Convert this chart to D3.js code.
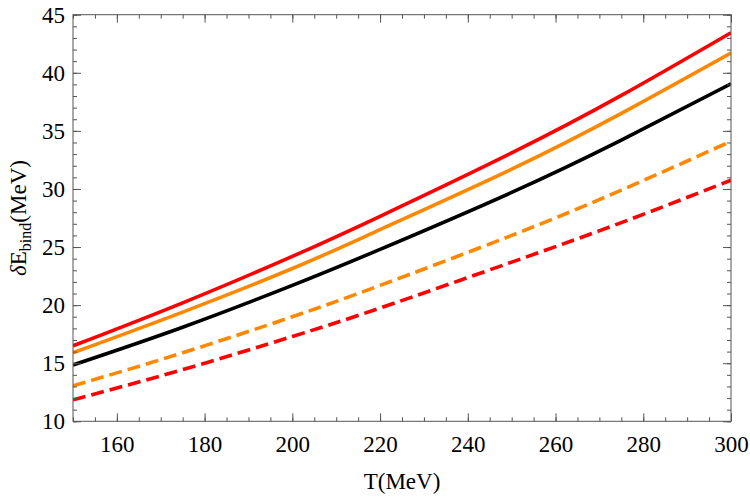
<!DOCTYPE html>
<html>
<head>
<meta charset="utf-8">
<script src="https://cdn.jsdelivr.net/npm/d3@7"></script>
</head>
<body style="margin:0; background:#fff">
<div id="chart"></div>
<script>
// data
const temps = [150, 175, 200, 220, 250, 275, 300]
const redSolid = [16.5, 20.2, 24.2, 27.65, 33.1, 38.05, 43.45]
const orangeSolid = [15.9, 19.4, 23.15, 26.5, 31.7, 36.5, 41.7]
const blackSolid = [14.85, 18.1, 21.7, 24.8, 29.7, 34.2, 39.05]
const orangeDashed = [13.05, 15.9, 19.0, 21.7, 26.0, 29.9, 34.1]
const redDashed = [11.85, 14.45, 17.3, 19.75, 23.7, 27.1, 30.75]

const xTicks = [160, 180, 200, 220, 240, 260, 280, 300]
const yTicks = [10, 15, 20, 25, 30, 35, 40, 45]

const series = [
  { values: redDashed, color: '#ff0000', dash: '13,6' },
  { values: orangeDashed, color: '#ff8800', dash: '13,6' },
  { values: blackSolid, color: '#000000', dash: null },
  { values: orangeSolid, color: '#ff8800', dash: null },
  { values: redSolid, color: '#ff0000', dash: null },
]

const serif = '"Liberation Serif"'

// size
const margin = { left: 73, right: 19, top: 14.7, bottom: 78.7 }
const width = 750 - margin.left - margin.right
const height = 500 - margin.top - margin.bottom

// scale
const x = d3.scaleLinear().domain([150, 300]).range([0, width])
const y = d3.scaleLinear().domain([10, 45]).range([height, 0])

const svg = d3
  .select('#chart')
  .append('svg')
  .attr('width', 750)
  .attr('height', 500)
  .style('display', 'block')

const plot = svg
  .append('g')
  .attr('transform', `translate(${margin.left}, ${margin.top})`)

plot
  .append('clipPath')
  .attr('id', 'clip')
  .append('rect')
  .attr('width', width)
  .attr('height', height)

// curves
const line = d3
  .line()
  .x(d => x(d[0]))
  .y(d => y(d[1]))
  .curve(d3.curveNatural)

series.forEach(s => {
  plot
    .append('path')
    .attr('clip-path', 'url(#clip)')
    .attr('d', line(temps.map((t, i) => [t, s.values[i]])))
    .attr('fill', 'none')
    .attr('stroke', s.color)
    .attr('stroke-width', 3.6)
    .attr('stroke-dasharray', s.dash)
})

// frame with inward ticks
const frameColor = '#555'
const xMinor = d3.range(150, 301, 5)
const yMinor = d3.range(10, 46, 1)

function styleAxis(g) {
  g.attr('font-family', null).attr('font-size', null)
  g.select('.domain').remove()
  g.selectAll('.tick line').attr('stroke', frameColor)
  g.selectAll('.tick text')
    .attr('fill', '#000')
    .style('font-family', serif)
    .style('font-size', '23px')
}

// minor ticks
plot.append('g')
  .attr('transform', `translate(0, ${height})`)
  .call(d3.axisBottom(x).tickValues(xMinor).tickSize(-4).tickFormat(''))
  .call(styleAxis)
plot.append('g')
  .call(d3.axisTop(x).tickValues(xMinor).tickSize(-4).tickFormat(''))
  .call(styleAxis)
plot.append('g')
  .call(d3.axisLeft(y).tickValues(yMinor).tickSize(-4).tickFormat(''))
  .call(styleAxis)
plot.append('g')
  .attr('transform', `translate(${width}, 0)`)
  .call(d3.axisRight(y).tickValues(yMinor).tickSize(-4).tickFormat(''))
  .call(styleAxis)

// major ticks
plot.append('g')
  .attr('transform', `translate(0, ${height})`)
  .call(d3.axisBottom(x).tickValues(xTicks).tickSize(-8).tickPadding(14))
  .call(styleAxis)
plot.append('g')
  .call(d3.axisTop(x).tickValues(xTicks).tickSize(-8).tickFormat(''))
  .call(styleAxis)
plot.append('g')
  .call(d3.axisLeft(y).tickValues(yTicks).tickSize(-8).tickPadding(8))
  .call(styleAxis)
plot.append('g')
  .attr('transform', `translate(${width}, 0)`)
  .call(d3.axisRight(y).tickValues(yTicks).tickSize(-8).tickFormat(''))
  .call(styleAxis)

plot
  .append('rect')
  .attr('width', width)
  .attr('height', height)
  .attr('fill', 'none')
  .attr('stroke', frameColor)
  .attr('stroke-width', 1)

// x-axis label
plot
  .append('text')
  .attr('text-anchor', 'middle')
  .style('font-family', serif)
  .style('font-size', '23px')
  .attr('x', width / 2)
  .attr('y', height + 68)
  .text('T(MeV)')

// y-axis label
const yLabel = plot
  .append('text')
  .attr('text-anchor', 'middle')
  .style('font-family', serif)
  .style('font-size', '23px')
  .attr('transform', `translate(-47, ${height / 2}) rotate(-90)`)

yLabel.append('tspan').style('font-style', 'italic').text('δ')
yLabel.append('tspan').text('E')
yLabel.append('tspan').style('font-size', '16px').attr('dy', 5).text('bind')
yLabel.append('tspan').attr('dy', -5).text('(MeV)')
</script>
</body>
</html>
